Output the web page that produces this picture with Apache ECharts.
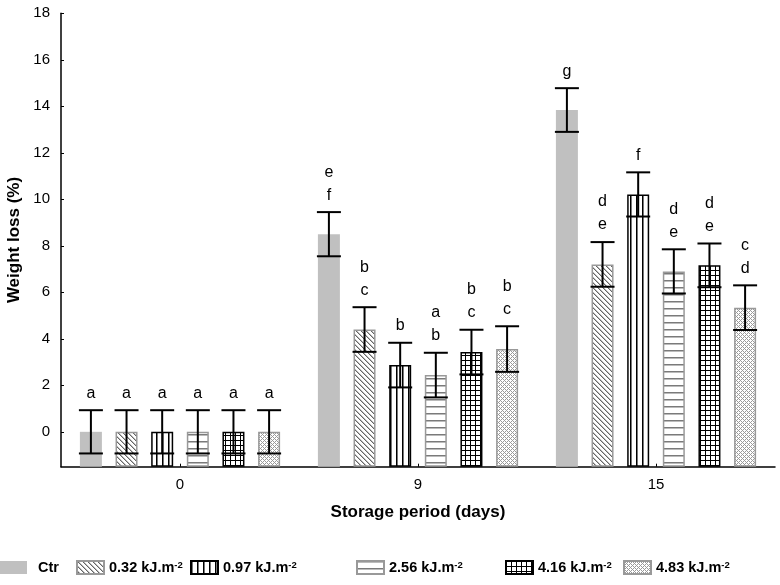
<!DOCTYPE html>
<html><head><meta charset="utf-8">
<script src="https://cdn.jsdelivr.net/npm/echarts@6/dist/echarts.min.js"></script>
<style>html,body{margin:0;padding:0;background:#fff}#c{width:780px;height:585px}</style>
</head><body><div id="c"></div>
<script>
// ---- data ----
const categories = ['0', '9', '15'];
const seriesNames = ['Ctr', '0.32 kJ.m-2', '0.97 kJ.m-2', '2.56 kJ.m-2', '4.16 kJ.m-2', '4.83 kJ.m-2'];
const valCtr = [0, 8.5, 13.84];
const val032 = [0, 4.4, 7.2];
const val097 = [0, 2.87, 10.21];
const val256 = [0, 2.44, 6.9];
const val416 = [0, 3.43, 7.16];
const val483 = [0, 3.56, 5.34];
const errCtr = [0.93, 0.95, 0.94];
const err032 = [0.93, 0.96, 0.96];
const err097 = [0.93, 0.96, 0.95];
const err256 = [0.93, 0.96, 0.95];
const err416 = [0.93, 0.96, 0.94];
const err483 = [0.93, 0.98, 0.96];
const letCtr = ['a', 'e\nf', 'g'];
const let032 = ['a', 'b\nc', 'd\ne'];
const let097 = ['a', 'b', 'f'];
const let256 = ['a', 'a\nb', 'd\ne'];
const let416 = ['a', 'b\nc', 'd\ne'];
const let483 = ['a', 'b\nc', 'c\nd'];
const yTickValues = [0, 2, 4, 6, 8, 10, 12, 14, 16, 18];

const allVals = [valCtr, val032, val097, val256, val416, val483];
const allErrs = [errCtr, err032, err097, err256, err416, err483];
const allLets = [letCtr, let032, let097, let256, let416, let483];

// ---- styles ----
const FONT = 'Liberation Sans';
const BAR_W = 22;
const GAP = 0.62;
const STEP = BAR_W * (1 + GAP);

function makePattern(w, h, draw) {
  const c = document.createElement('canvas');
  c.width = w; c.height = h;
  const g = c.getContext('2d');
  g.fillStyle = '#fff'; g.fillRect(0, 0, w, h);
  draw(g, w, h);
  return { image: c, repeat: 'repeat' };
}
const patDiag = makePattern(5, 5, (g) => {
  for (let x = 0; x < 5; x++) for (let y = 0; y < 5; y++) {
    const d = ((x - y) % 5 + 5) % 5;
    if (d === 0) { g.fillStyle = '#666'; g.fillRect(x, y, 1, 1); }
    else if (d === 1) { g.fillStyle = '#bbb'; g.fillRect(x, y, 1, 1); }
  }
});
const patVert = makePattern(6, 1, (g) => {
  g.fillStyle = '#000'; g.fillRect(0, 0, 1, 1);
  g.fillStyle = '#777'; g.fillRect(1, 0, 1, 1);
});
const patHor = makePattern(1, 7, (g) => {
  g.fillStyle = '#7a7a7a'; g.fillRect(0, 0, 1, 1);
  g.fillStyle = '#bbb'; g.fillRect(0, 1, 1, 1);
});
const patGrid = makePattern(5, 5, (g) => {
  g.fillStyle = '#000'; g.fillRect(0, 0, 5, 1); g.fillRect(0, 0, 1, 5);
});
const patCross = makePattern(4, 4, (g) => {
  for (let x = 0; x < 4; x++) for (let y = 0; y < 4; y++) {
    if ((x + y) % 4 === 0 || ((x - y) % 4 + 4) % 4 === 0) { g.fillStyle = '#9a9a9a'; g.fillRect(x, y, 1, 1); }
  }
});
const barStyles = [
  { color: '#c0c0c0', borderWidth: 0 },
  { color: patDiag, borderColor: '#999', borderWidth: 1.5 },
  { color: patVert, borderColor: '#000', borderWidth: 1.5 },
  { color: patHor, borderColor: '#999', borderWidth: 1.5 },
  { color: patGrid, borderColor: '#000', borderWidth: 1.5 },
  { color: patCross, borderColor: '#999', borderWidth: 1.5 }
];

const barSeries = seriesNames.map((n, i) => ({
  type: 'bar', name: n, data: allVals[i], barWidth: BAR_W, barGap: (GAP * 100) + '%',
  itemStyle: barStyles[i], emphasis: { disabled: true }, z: 2
}));

const errData = [];
const errLetters = [];
for (let s = 0; s < 6; s++) for (let c = 0; c < categories.length; c++) {
  errData.push([c, allVals[s][c], allErrs[s][c], s]);
  errLetters.push(allLets[s][c]);
}

const errSeries = {
  type: 'custom', name: 'err', silent: true, z: 5,
  data: errData, encode: { x: 0, y: 1 },
  renderItem: function (params, api) {
    const c = api.value(0), v = api.value(1), e = api.value(2), s = api.value(3);
    const base = api.coord([c, v]);
    const x = base[0] + (s - 2.5) * STEP;
    const yt = api.coord([c, v + e])[1];
    const yb = api.coord([c, v - e])[1];
    const hw = 12;
    const ls = { stroke: '#000', lineWidth: 2 };
    const children = [
      { type: 'line', shape: { x1: x, y1: yt, x2: x, y2: yb }, style: ls },
      { type: 'line', shape: { x1: x - hw, y1: yt, x2: x + hw, y2: yt }, style: ls },
      { type: 'line', shape: { x1: x - hw, y1: yb, x2: x + hw, y2: yb }, style: ls }
    ];
    const lines = errLetters[params.dataIndex].split('\n');
    const n = lines.length;
    lines.forEach((t, k) => {
      children.push({
        type: 'text',
        style: { text: t, x: x, y: yt - 17 - 23 * (n - 1 - k), align: 'center', verticalAlign: 'middle',
          fill: '#000', font: '16px "' + FONT + '"' }
      });
    });
    return { type: 'group', children: children };
  }
};

const legendLefts = [0, 76, 190, 356, 505, 623];
const legends = seriesNames.map((n, i) => ({
  data: [n], left: legendLefts[i], top: 560, itemWidth: 27, itemHeight: 13, icon: 'rect',
  padding: 0, selectedMode: false,
  formatter: function (name) {
    if (name.endsWith('-2')) return '{b|' + name.slice(0, -2) + '}{s|-2}';
    return '{c|' + name + '}';
  },
  textStyle: {
    color: '#000', fontFamily: FONT, fontWeight: 'bold', fontSize: 14.5,
    rich: {
      b: { color: '#000', fontFamily: FONT, fontWeight: 'bold', fontSize: 14.5 },
      c: { color: '#000', fontFamily: FONT, fontWeight: 'bold', fontSize: 14.5, padding: [0, 0, 0, 6] },
      s: { color: '#000', fontFamily: FONT, fontWeight: 'bold', fontSize: 9.5, verticalAlign: 'top' }
    }
  }
}));

const chart = echarts.init(document.getElementById('c'), null, { renderer: 'canvas' });
chart.setOption({
  animation: false,
  backgroundColor: '#fff',
  grid: { left: 61, right: 5, top: 13.3, bottom: 118.3, containLabel: false, outerBoundsMode: 'none' },
  legend: legends,
  xAxis: {
    type: 'category', data: categories,
    axisLine: { onZero: false, lineStyle: { color: '#000', width: 1.5 } },
    axisTick: { show: true, inside: true, alignWithLabel: true, length: 3, lineStyle: { color: '#000' } },
    axisLabel: { color: '#000', fontFamily: FONT, fontSize: 15, margin: 11 },
    splitLine: { show: false },
    name: 'Storage period (days)', nameLocation: 'middle', nameGap: 37,
    nameTextStyle: { color: '#000', fontFamily: FONT, fontWeight: 'bold', fontSize: 17 }
  },
  yAxis: {
    type: 'value', min: -1.5, max: 18, startValue: -1.5,
    axisLine: { show: true, lineStyle: { color: '#000', width: 1.5 } },
    axisTick: { show: true, inside: true, length: 3, customValues: yTickValues, lineStyle: { color: '#000' } },
    axisLabel: { color: '#000', fontFamily: FONT, fontSize: 15, margin: 11, customValues: yTickValues },
    splitLine: { show: false },
    name: 'Weight loss (%)', nameLocation: 'middle', nameGap: 37, nameRotate: 90,
    nameTextStyle: { color: '#000', fontFamily: FONT, fontWeight: 'bold', fontSize: 17 }
  },
  series: barSeries.concat([errSeries])
});
</script>
</body></html>
